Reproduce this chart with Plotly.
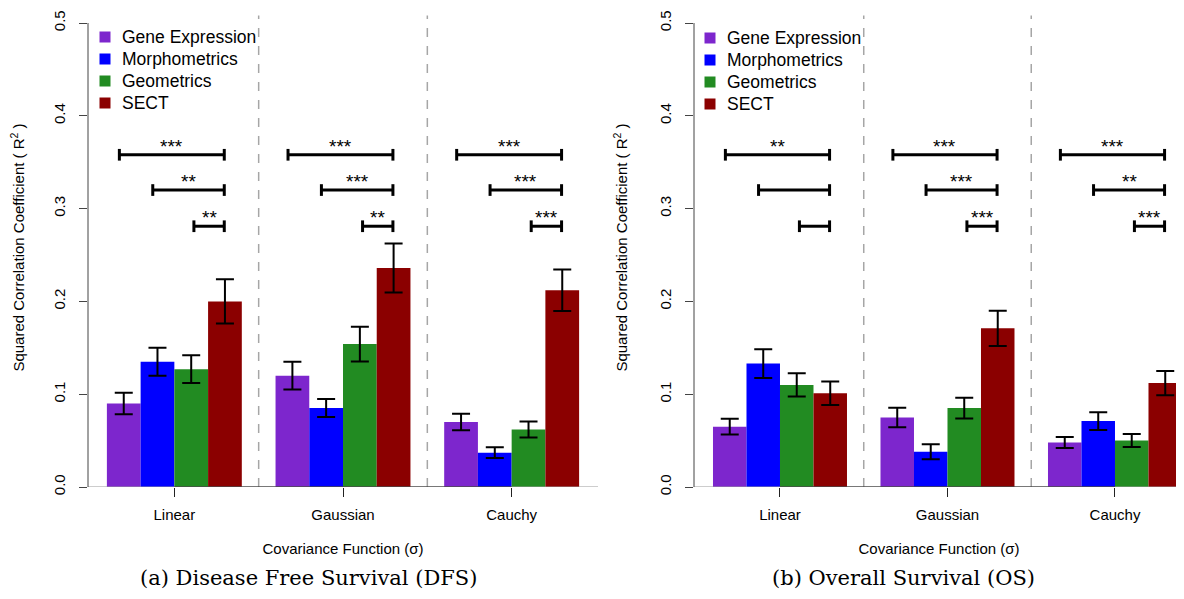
import plotly.graph_objects as go

# ---------------- data ----------------
groups = ["Linear", "Gaussian", "Cauchy"]
series = ["Gene Expression", "Morphometrics", "Geometrics", "SECT"]
colors = ["#7D26CD", "#0000FF", "#228B22", "#8B0000"]

# Disease Free Survival (DFS): R^2 per series across groups
dfs_gene = [0.090, 0.120, 0.070]
dfs_morph = [0.135, 0.085, 0.037]
dfs_geom = [0.127, 0.154, 0.062]
dfs_sect = [0.200, 0.236, 0.212]
dfs_gene_err = [0.0115, 0.0150, 0.0088]
dfs_morph_err = [0.0150, 0.0097, 0.0057]
dfs_geom_err = [0.0150, 0.0187, 0.0086]
dfs_sect_err = [0.0238, 0.0265, 0.0223]

# Overall Survival (OS)
os_gene = [0.065, 0.075, 0.048]
os_morph = [0.133, 0.038, 0.071]
os_geom = [0.110, 0.085, 0.050]
os_sect = [0.101, 0.171, 0.112]
os_gene_err = [0.0085, 0.0105, 0.0060]
os_morph_err = [0.0155, 0.0082, 0.0095]
os_geom_err = [0.0126, 0.0113, 0.0070]
os_sect_err = [0.0127, 0.0190, 0.0130]

# significance brackets (vs SECT): levels and labels per group
bracket_levels = [0.358, 0.320, 0.281]
dfs_sig = [["***", "**", "**"], ["***", "***", "**"], ["***", "***", "***"]]
os_sig = [["**", "", ""], ["***", "***", "***"], ["***", "**", "***"]]

y_ticks = [0.0, 0.1, 0.2, 0.3, 0.4, 0.5]
y_ticktext = ["0.0", "0.1", "0.2", "0.3", "0.4", "0.5"]

panels = [
    dict(vals=[dfs_gene, dfs_morph, dfs_geom, dfs_sect],
         errs=[dfs_gene_err, dfs_morph_err, dfs_geom_err, dfs_sect_err],
         sig=dfs_sig, caption="(a) Disease Free Survival (DFS)"),
    dict(vals=[os_gene, os_morph, os_geom, os_sect],
         errs=[os_gene_err, os_morph_err, os_geom_err, os_sect_err],
         sig=os_sig, caption="(b) Overall Survival (OS)"),
]

SANS = "Liberation Sans, Arial, Helvetica, sans-serif"
SERIF = "DejaVu Serif, Liberation Serif, serif"
W, H = 1184, 599
OFF = 8  # page offset of the figure inside the browser window


def px(x):
    return (x - OFF) / W


def py(y):
    return 1 - (y - OFF) / H


fig = go.Figure()


def bar_x(g, k):
    # R barplot units: bars of width 1, one-bar gap between groups
    return 1 + g * 5 + k + 0.5


group_centers = [1 + g * 5 + 2 for g in range(len(groups))]
bracket_left_offsets = [0.37, 1.36, 2.58]
bracket_right_offset = 3.48
tick_h = 0.0063

for p, panel in enumerate(panels):
    xa = "x" if p == 0 else "x2"
    ya = "y" if p == 0 else "y2"
    for k, name in enumerate(series):
        fig.add_trace(go.Bar(
            x=[bar_x(g, k) for g in range(len(groups))],
            y=panel["vals"][k],
            width=1.0,
            name=name,
            marker=dict(color=colors[k], line=dict(width=0)),
            error_y=dict(type="data", array=panel["errs"][k], color="black",
                         thickness=2, width=9),
            xaxis=xa, yaxis=ya, showlegend=False,
        ))
    # brackets
    bx, by = [], []
    for g in range(len(groups)):
        start = 1 + g * 5
        for j, lvl in enumerate(bracket_levels):
            x0 = start + bracket_left_offsets[j]
            x1 = start + bracket_right_offset
            bx += [x0, x1, None, x0, x0, None, x1, x1, None]
            by += [lvl, lvl, None, lvl - tick_h, lvl + tick_h, None,
                   lvl - tick_h, lvl + tick_h, None]
            lab = panel["sig"][g][j]
            if lab:
                fig.add_annotation(x=(x0 + x1) / 2, y=lvl, xref=xa, yref=ya,
                                   text=lab, showarrow=False,
                                   xanchor="center", yanchor="bottom", yshift=-4,
                                   font=dict(family=SANS, size=19, color="black"))
    fig.add_trace(go.Scatter(x=bx, y=by, mode="lines",
                             line=dict(color="black", width=3),
                             xaxis=xa, yaxis=ya, showlegend=False,
                             hoverinfo="skip"))
    # separators and axis lines
    for sx in [5.5, 10.5]:
        fig.add_shape(type="line", xref=xa, yref=ya, x0=sx, x1=sx, y0=0, y1=0.508,
                      line=dict(color="#A6A6A6", width=1.5, dash="dash"))
    fig.add_shape(type="line", xref=xa, yref=ya, x0=0.44, x1=15.56, y0=0, y1=0,
                  line=dict(color="#9a9a9a", width=1))
    fig.add_shape(type="line", xref=xa, yref=ya, x0=group_centers[0],
                  x1=group_centers[-1], y0=0, y1=0,
                  line=dict(color="#222222", width=1))
    fig.add_shape(type="line", xref=xa + " domain", yref=ya, x0=0, x1=0, y0=0, y1=0.5,
                  line=dict(color="#444444", width=1))

# legends (one per panel), drawn as colour squares with labels
legend_left_px = [105, 710]
legend_rows_px = [37, 59, 81, 103]
for p in range(2):
    for k, name in enumerate(series):
        cx, cy = legend_left_px[p], legend_rows_px[k] + (1 if p else 0)
        fig.add_shape(type="rect", xref="paper", yref="paper",
                      x0=px(cx - 5.5), x1=px(cx + 5.5),
                      y0=py(cy + 5.5), y1=py(cy - 5.5),
                      fillcolor=colors[k], line=dict(width=0))
        fig.add_annotation(x=px(cx + 15), y=py(cy), xref="paper", yref="paper",
                           text=name, showarrow=False, xanchor="left", yanchor="middle",
                           font=dict(family=SANS, size=17.5, color="black"))

axis_common_x = dict(tickmode="array", tickvals=group_centers, ticktext=groups,
                     ticks="outside", ticklen=9, tickcolor="#222222",
                     showline=False, showgrid=False, zeroline=False, automargin=False,
                     tickfont=dict(family=SANS, size=15, color="black"),
                     ticklabelstandoff=5,
                     title=dict(text="Covariance Function (σ)",
                                font=dict(family=SANS, size=15, color="black"),
                                standoff=21))
# 0.0 at window pixel 487, 0.5 at window pixel 23 (keeps the top label on the page)
y_zero_px, y_half_px = 487, 23
scale = (y_zero_px - y_half_px) / 0.5
y_top = (y_zero_px - OFF) / scale
axis_common_y = dict(tickmode="array", tickvals=y_ticks, ticktext=y_ticktext,
                     ticks="outside", ticklen=8, tickcolor="#444444",
                     tickangle=-90, range=[0, y_top], domain=[py(y_zero_px), 1],
                     showline=False, showgrid=False, zeroline=False, automargin=False,
                     ticklabeloverflow="allow",
                     tickfont=dict(family=SANS, size=15, color="black"),
                     ticklabelstandoff=8,
                     title=dict(text="Squared Correlation Coefficient ( R<sup>2</sup> )",
                                font=dict(family=SANS, size=15, color="black"),
                                standoff=25))

fig.update_layout(
    width=W, height=H,
    margin=dict(l=0, r=0, t=0, b=0),
    paper_bgcolor="white", plot_bgcolor="white",
    barmode="overlay",
    xaxis=dict(axis_common_x, domain=[px(88), px(598)], range=[0.44, 15.56]),
    xaxis2=dict(axis_common_x, domain=[px(694), px(1184)], range=[0.433, 15.06],
                anchor="y2"),
    yaxis=dict(axis_common_y, anchor="x"),
    yaxis2=dict(axis_common_y, anchor="x2"),
    showlegend=False,
)

# panel captions
for p, cx in enumerate([308, 903]):
    fig.add_annotation(x=px(cx), y=py(578), xref="paper", yref="paper",
                       text=panels[p]["caption"], showarrow=False,
                       xanchor="center", yanchor="middle",
                       font=dict(family=SERIF, size=21, color="black"))

fig.write_html("out.html")
